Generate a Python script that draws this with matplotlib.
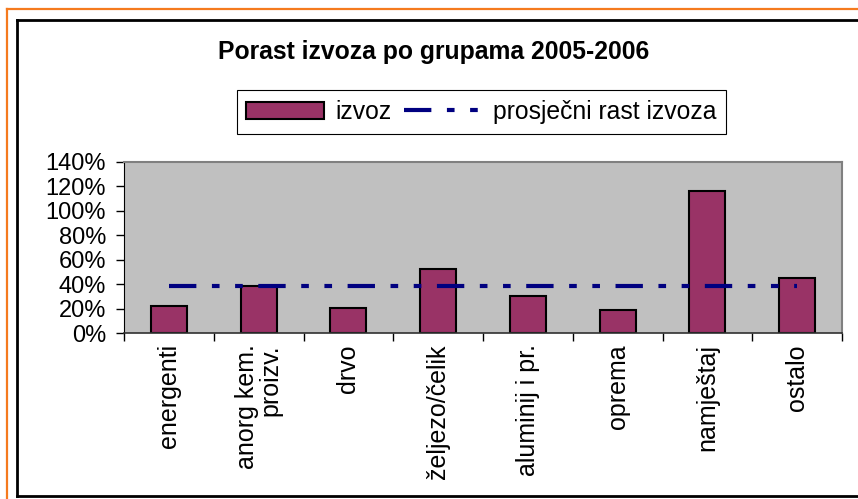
import matplotlib
matplotlib.use("Agg")
import matplotlib.pyplot as plt
from matplotlib.lines import Line2D

# data (percent growth of export by group)
categories = ["energenti", "anorg kem.\nproizv.", "drvo", "željezo/čelik",
              "aluminij i pr.", "oprema", "namještaj", "ostalo"]
izvoz = [22.4, 38.5, 20.7, 52.7, 30.6, 19.1, 116.5, 44.8]
prosjek = 38.5
y_ticks = [0, 20, 40, 60, 80, 100, 120, 140]

plt.rcParams['font.family'] = ['Liberation Sans', 'DejaVu Sans']
plt.rcParams['lines.scale_dashes'] = False

W, H = 858, 499
fig = plt.figure(figsize=(W / 100, H / 100), dpi=100)

def fx(px):
    return px / W

def fy(py):
    return 1 - py / H

# outer frames (orange page border and black chart border)
orange = '#F57A1E'
fig.add_artist(Line2D([fx(7), fx(7)], [fy(9), fy(510)], color=orange, lw=1.6))
fig.add_artist(Line2D([fx(7), fx(870)], [fy(9), fy(9)], color=orange, lw=1.6))
fig.add_artist(Line2D([fx(17), fx(17)], [fy(20), fy(496)], color='black', lw=2))
fig.add_artist(Line2D([fx(17), fx(870)], [fy(20), fy(20)], color='black', lw=2))
fig.add_artist(Line2D([fx(17), fx(870)], [fy(496), fy(496)], color='black', lw=2))

ax = fig.add_axes([fx(124), fy(333), fx(842) - fx(124), (333 - 162) / H])
ax.set_facecolor('#C0C0C0')

x = list(range(len(categories)))
bars = ax.bar(x, izvoz, width=0.4, color='#993366', edgecolor='black',
              linewidth=1.5, label='izvoz', zorder=2)
avg_line, = ax.plot([x[0], x[-1]], [prosjek, prosjek], color='#000080', lw=3,
                    dashes=(19.7, 11.2, 5.5, 11.2, 5.5, 11.2),
                    dash_capstyle='butt', label='prosječni rast izvoza', zorder=3)

ax.set_xlim(-0.5, len(categories) - 0.5)
ax.set_ylim(0, 140)
ax.set_yticks(y_ticks)
ax.set_yticklabels([f"{v}%" for v in y_ticks], fontsize=17)
ax.tick_params(axis='y', length=5.8, width=1, pad=7, color='black')

ax.set_xticks(x)
ax.set_xticklabels(categories, rotation=90, fontsize=18, va='top', ha='center',
                   multialignment='right', linespacing=1.0)
ax.tick_params(axis='x', which='major', length=0, pad=8)
ax.set_xticks([i - 0.5 for i in range(len(categories) + 1)], minor=True)
ax.tick_params(axis='x', which='minor', length=5.8, width=1, color='black')

for side in ['top', 'right']:
    ax.spines[side].set_color('#808080')
    ax.spines[side].set_linewidth(1.5)
ax.spines['left'].set_color('black')
ax.spines['bottom'].set_color('#303030')
ax.spines['bottom'].set_linewidth(1.2)

fig.text(fx(434), fy(52), "Porast izvoza po grupama 2005-2006", ha='center',
         va='center', fontsize=17.8, fontweight='bold')

leg = fig.legend(handles=[bars, avg_line], loc='center', ncol=2,
                 bbox_to_anchor=(fx(481.5), fy(112)), fontsize=17.8,
                 handlelength=3.13, handletextpad=0.47, columnspacing=0.5,
                 borderpad=0.4, fancybox=False, framealpha=1)
leg.get_frame().set_edgecolor('black')
leg.get_frame().set_linewidth(0.8)

fig.savefig("out.png", dpi=100)
